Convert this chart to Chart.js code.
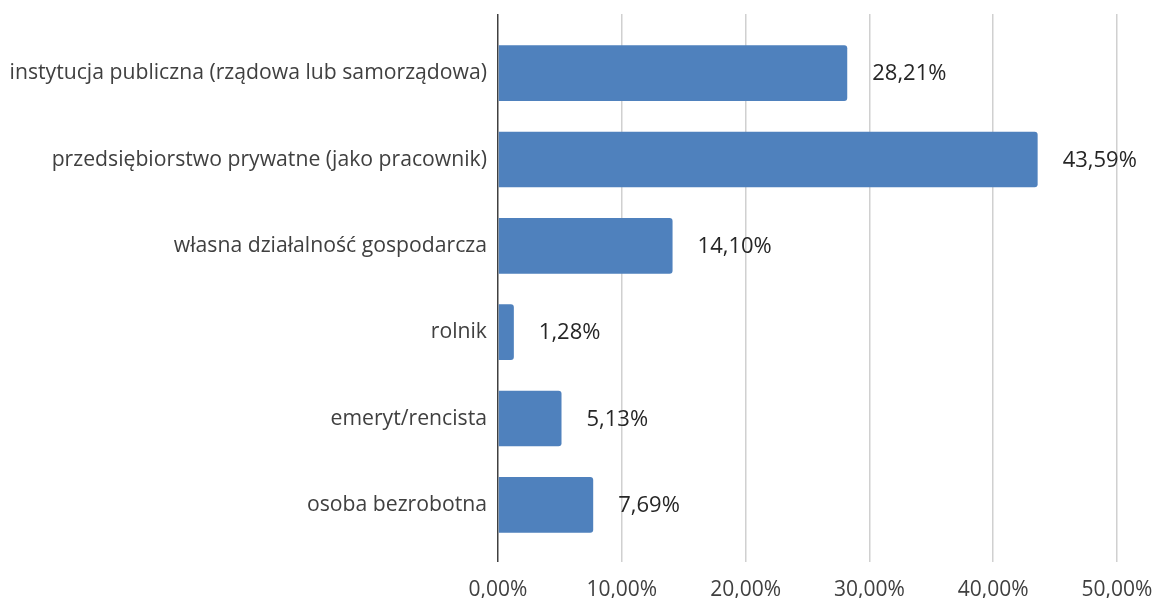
<!DOCTYPE html>
<html>
<head>
<meta charset="utf-8">
<style>
  html, body { margin: 0; padding: 0; background: #fff; }
  #wrap { width: 1156px; height: 598px; }
</style>
</head>
<body>
<div id="wrap"><canvas id="jobChart" width="1156" height="598"></canvas></div>
<script src="https://cdn.jsdelivr.net/npm/chart.js"></script>
<script>
const categories = [
  'instytucja publiczna (rządowa lub samorządowa)',
  'przedsiębiorstwo prywatne (jako pracownik)',
  'własna działalność gospodarcza',
  'rolnik',
  'emeryt/rencista',
  'osoba bezrobotna'
];
const shares = [28.21, 43.59, 14.10, 1.28, 5.13, 7.69];
const shareLabels = ['28,21%', '43,59%', '14,10%', '1,28%', '5,13%', '7,69%'];
const axisMax = 50;
const axisStep = 10;

const pct = v => v.toFixed(2).replace('.', ',') + '%';
const gridColor = c => (c.tick && c.tick.value === 0) ? '#404040' : '#d0d0d0';

// values written to the right of each bar
const barValues = {
  id: 'barValues',
  afterDatasetsDraw(chart) {
    const ctx = chart.ctx;
    const meta = chart.getDatasetMeta(0);
    ctx.save();
    ctx.font = '22px "Open Sans"';
    ctx.fillStyle = '#262626';
    ctx.textBaseline = 'middle';
    meta.data.forEach((bar, i) => {
      ctx.fillText(shareLabels[i], bar.x + 25, bar.y + 1);
    });
    ctx.restore();
  }
};

let ctx = document.getElementById('jobChart').getContext('2d');
let chart = new Chart(ctx, {
  type: 'bar',
  data: {
    labels: categories,
    datasets: [{
      data: shares,
      backgroundColor: '#4f81bd',
      borderRadius: 3,
      borderSkipped: 'start',
      barPercentage: 0.645,
      categoryPercentage: 1.0
    }]
  },
  options: {
    indexAxis: 'y',
    responsive: false,
    animation: false,
    layout: { padding: { top: 14, right: 0, bottom: 0, left: 0 } },
    plugins: { legend: { display: false }, tooltip: { enabled: false } },
    scales: {
      x: {
        min: 0, max: axisMax,
        border: { display: false },
        grid: { color: gridColor, lineWidth: 1.5, drawTicks: true, tickLength: 14 },
        ticks: {
          stepSize: axisStep, padding: 15, color: '#404040',
          font: { family: 'Open Sans', size: 21 },
          callback: v => pct(v)
        },
        afterFit(scale) { scale.height = 50; scale.paddingRight = 39; }
      },
      x2: {
        type: 'linear', position: 'top', min: 0, max: axisMax,
        border: { display: false },
        grid: { color: gridColor, lineWidth: 1.5, drawOnChartArea: false, drawTicks: true, tickLength: 16 },
        ticks: { display: false, stepSize: axisStep }
      },
      y: {
        border: { display: false },
        grid: { display: false, drawTicks: false },
        ticks: { padding: 11, color: '#404040', font: { family: 'Open Sans', size: 21.2 } },
        afterFit(scale) { scale.width = 498; }
      }
    }
  },
  plugins: [barValues]
});
</script>
</body>
</html>
